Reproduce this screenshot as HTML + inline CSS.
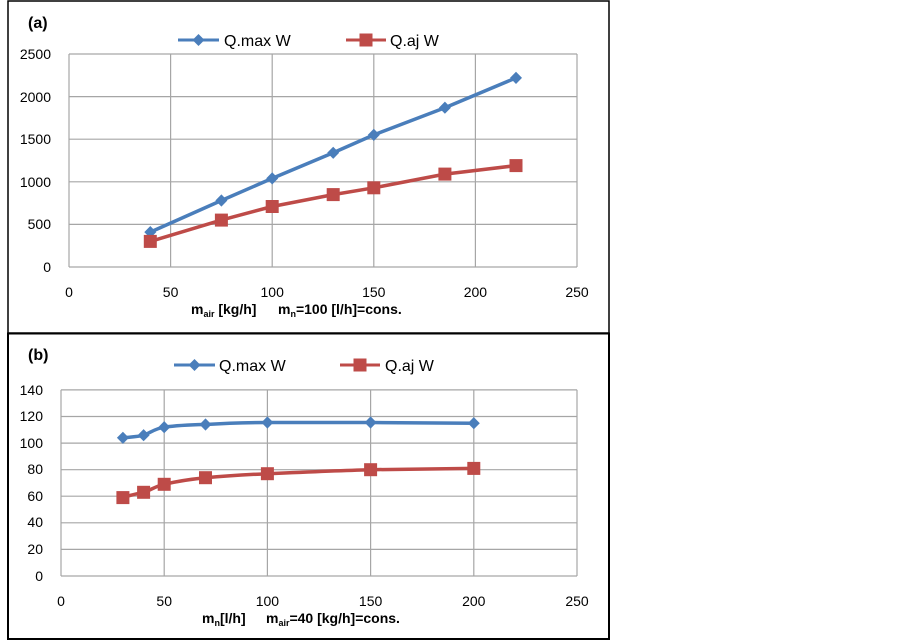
<!DOCTYPE html>
<html><head><meta charset="utf-8"><style>
body{margin:0;background:#fff;}
svg{display:block;font-family:"Liberation Sans",Arial,sans-serif;}
</style></head><body>
<svg width="903" height="641" viewBox="0 0 903 641">
<rect width="903" height="641" fill="#fff"/>
<rect x="8" y="1" width="601" height="332" fill="none" stroke="#000" stroke-width="1.5"/>
<rect x="8" y="333.5" width="601" height="305.5" fill="none" stroke="#000" stroke-width="2"/>

<!-- Chart A -->
<g stroke="#a6a6a6" stroke-width="1.2" fill="none">
<path d="M69 54H577M69 96.6H577M69 139.2H577M69 181.8H577M69 224.4H577M69 267H577"/>
<path d="M69 54V267M170.6 54V267M272.2 54V267M373.8 54V267M475.4 54V267M577 54V267"/>
</g>
<g font-size="14" fill="#000" text-anchor="end">
<text x="51" y="59">2500</text><text x="51" y="102">2000</text><text x="51" y="144">1500</text>
<text x="51" y="187">1000</text><text x="51" y="229">500</text><text x="51" y="272">0</text>
</g>
<g font-size="14" fill="#000" text-anchor="middle">
<text x="69" y="297">0</text><text x="170.6" y="297">50</text><text x="272.2" y="297">100</text>
<text x="373.8" y="297">150</text><text x="475.4" y="297">200</text><text x="577" y="297">250</text>
</g>
<text x="28" y="28" font-size="16" font-weight="bold">(a)</text>
<text x="191" y="314" font-size="14" font-weight="bold">m<tspan font-size="9" dy="3">air</tspan><tspan dy="-3"> [kg/h]</tspan></text>
<text x="278" y="314" font-size="14" font-weight="bold">m<tspan font-size="9" dy="3">n</tspan><tspan dy="-3">=100 [l/h]=cons.</tspan></text>
<line x1="178" y1="40" x2="219" y2="40" stroke="#4a7ebb" stroke-width="3"/>
<path d="M198.5 34L204.5 40L198.5 46L192.5 40Z" fill="#4a7ebb"/>
<text x="224" y="46" font-size="16">Q.max W</text>
<line x1="346" y1="40" x2="386" y2="40" stroke="#be4b48" stroke-width="3"/>
<rect x="359.5" y="33.5" width="13" height="13" fill="#be4b48"/>
<text x="390" y="46" font-size="16">Q.aj W</text>
<polyline points="150.3,232.1 221.4,200.5 272.2,178.4 333.2,152.8 373.8,134.9 444.9,107.7 516,77.9" fill="none" stroke="#4a7ebb" stroke-width="3.5" stroke-linejoin="round"/>
<g fill="#4a7ebb">
<path d="M150.3 226L156.3 232.1L150.3 238.2L144.3 232.1Z"/>
<path d="M221.4 194.4L227.4 200.5L221.4 206.6L215.4 200.5Z"/>
<path d="M272.2 172.3L278.2 178.4L272.2 184.5L266.2 178.4Z"/>
<path d="M333.2 146.7L339.2 152.8L333.2 158.9L327.2 152.8Z"/>
<path d="M373.8 128.8L379.8 134.9L373.8 141L367.8 134.9Z"/>
<path d="M444.9 101.6L450.9 107.7L444.9 113.8L438.9 107.7Z"/>
<path d="M516 71.8L522 77.9L516 84L510 77.9Z"/>
</g>
<polyline points="150.3,241.4 221.4,220.1 272.2,206.5 333.2,194.6 373.8,187.8 444.9,174.1 516,165.6" fill="none" stroke="#be4b48" stroke-width="3.5" stroke-linejoin="round"/>
<g fill="#be4b48">
<rect x="143.8" y="234.9" width="13" height="13"/>
<rect x="214.9" y="213.6" width="13" height="13"/>
<rect x="265.7" y="200" width="13" height="13"/>
<rect x="326.7" y="188.1" width="13" height="13"/>
<rect x="367.3" y="181.3" width="13" height="13"/>
<rect x="438.4" y="167.6" width="13" height="13"/>
<rect x="509.5" y="159.1" width="13" height="13"/>
</g>

<!-- Chart B -->
<g stroke="#a6a6a6" stroke-width="1.2" fill="none">
<path d="M61 389.9H577M61 416.5H577M61 443.1H577M61 469.7H577M61 496.2H577M61 522.8H577M61 549.4H577M61 576H577"/>
<path d="M61 389.9V576M164.2 389.9V576M267.4 389.9V576M370.6 389.9V576M473.8 389.9V576M577 389.9V576"/>
</g>
<g font-size="14" fill="#000" text-anchor="end">
<text x="43" y="395">140</text><text x="43" y="421">120</text><text x="43" y="448">100</text>
<text x="43" y="474">80</text><text x="43" y="501">60</text><text x="43" y="527">40</text>
<text x="43" y="554">20</text><text x="43" y="581">0</text>
</g>
<g font-size="14" fill="#000" text-anchor="middle">
<text x="61" y="606">0</text><text x="164.2" y="606">50</text><text x="267.4" y="606">100</text>
<text x="370.6" y="606">150</text><text x="473.8" y="606">200</text><text x="577" y="606">250</text>
</g>
<text x="28" y="360" font-size="16" font-weight="bold">(b)</text>
<text x="202" y="623" font-size="14" font-weight="bold">m<tspan font-size="9" dy="3">n</tspan><tspan dy="-3">[l/h]</tspan></text>
<text x="266" y="623" font-size="14" font-weight="bold">m<tspan font-size="9" dy="3">air</tspan><tspan dy="-3">=40 [kg/h]=cons.</tspan></text>
<line x1="174" y1="365" x2="215" y2="365" stroke="#4a7ebb" stroke-width="3"/>
<path d="M194.5 359L200.5 365L194.5 371L188.5 365Z" fill="#4a7ebb"/>
<text x="219" y="371" font-size="16">Q.max W</text>
<line x1="340" y1="365" x2="380" y2="365" stroke="#be4b48" stroke-width="3"/>
<rect x="353.5" y="358.5" width="13" height="13" fill="#be4b48"/>
<text x="385" y="371" font-size="16">Q.aj W</text>
<path d="M122.9 437.8C130 437 137 437 143.6 435.2C150 433 155 428.5 164.2 427.2C180 425 192 424.8 205.5 424.5C230 423 250 422.6 267.4 422.5L370.6 422.5C420 422.6 450 422.9 473.8 423.2" fill="none" stroke="#4a7ebb" stroke-width="3.5"/>
<g fill="#4a7ebb">
<path d="M122.9 431.7L128.9 437.8L122.9 443.9L116.9 437.8Z"/>
<path d="M143.6 429.1L149.6 435.2L143.6 441.3L137.6 435.2Z"/>
<path d="M164.2 421.1L170.2 427.2L164.2 433.3L158.2 427.2Z"/>
<path d="M205.5 418.4L211.5 424.5L205.5 430.6L199.5 424.5Z"/>
<path d="M267.4 416.4L273.4 422.5L267.4 428.6L261.4 422.5Z"/>
<path d="M370.6 416.4L376.6 422.5L370.6 428.6L364.6 422.5Z"/>
<path d="M473.8 417.1L479.8 423.2L473.8 429.3L467.8 423.2Z"/>
</g>
<path d="M122.9 497.6C130 495 136 494 143.6 492.3C151 490 156 486 164.2 484.3C180 480.5 192 479 205.5 477.7C230 475.5 250 474.5 267.4 473.7C310 471.8 340 470.5 370.6 469.7C420 469 450 468.7 473.8 468.4" fill="none" stroke="#be4b48" stroke-width="3.5"/>
<g fill="#be4b48">
<rect x="116.4" y="491.1" width="13" height="13"/>
<rect x="137.1" y="485.8" width="13" height="13"/>
<rect x="157.7" y="477.8" width="13" height="13"/>
<rect x="199" y="471.2" width="13" height="13"/>
<rect x="260.9" y="467.2" width="13" height="13"/>
<rect x="364.1" y="463.2" width="13" height="13"/>
<rect x="467.3" y="461.9" width="13" height="13"/>
</g>
</svg>
</body></html>
